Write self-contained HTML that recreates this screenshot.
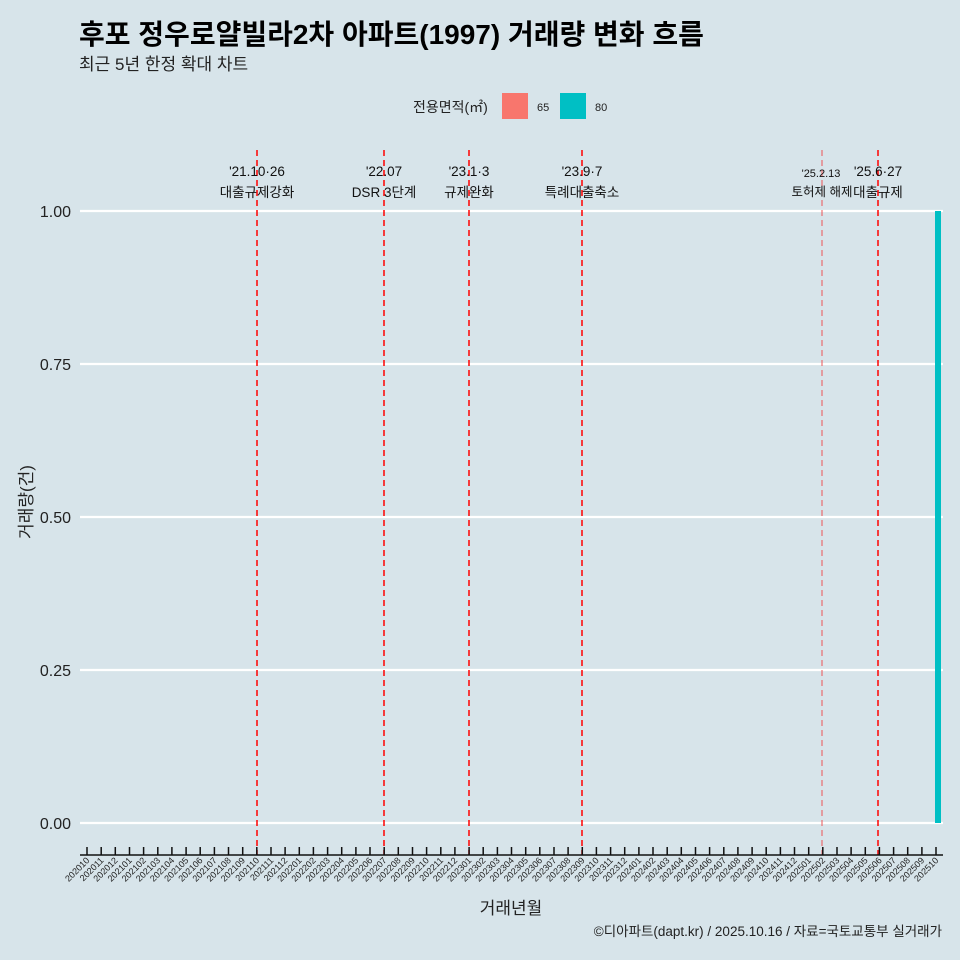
<!DOCTYPE html>
<html><head><meta charset="utf-8"><style>
body{margin:0;background:#d7e4ea}
svg{display:block;font-family:"Liberation Sans","Noto Sans CJK KR",sans-serif}
.t{font-size:9px;fill:#222;text-anchor:end}
</style></head><body>
<svg width="960" height="960" xmlns="http://www.w3.org/2000/svg">
<rect width="960" height="960" fill="#d7e4ea"/>
<text x="79" y="44" font-size="28" font-weight="bold" fill="#000">후포 정우로얄빌라2차 아파트(1997) 거래량 변화 흐름</text>
<text x="79" y="70" font-size="17" fill="#222">최근 5년 한정 확대 차트</text>
<text x="413" y="112" font-size="14" fill="#222">전용면적(㎡)</text>
<rect x="502" y="93" width="26" height="26" fill="#F8766D"/>
<text x="537" y="111" font-size="11" fill="#222">65</text>
<rect x="560" y="93" width="26" height="26" fill="#00BFC4"/>
<text x="595" y="111" font-size="11" fill="#222">80</text>
<g stroke="#fff" stroke-width="2.2">
<line x1="80" x2="943" y1="211" y2="211"/><line x1="80" x2="943" y1="364" y2="364"/>
<line x1="80" x2="943" y1="517" y2="517"/><line x1="80" x2="943" y1="670" y2="670"/>
<line x1="80" x2="943" y1="823" y2="823"/></g>
<g font-size="16" fill="#222" text-anchor="end">
<text x="71" y="217">1.00</text><text x="71" y="370">0.75</text><text x="71" y="523">0.50</text><text x="71" y="676">0.25</text><text x="71" y="829">0.00</text></g>
<text transform="translate(32,502) rotate(-90)" font-size="17" fill="#222" text-anchor="middle">거래량(건)</text>
<text x="511" y="914" font-size="17" fill="#222" text-anchor="middle">거래년월</text>
<text x="942" y="936" font-size="13.5" fill="#222" text-anchor="end">©디아파트(dapt.kr) / 2025.10.16 / 자료=국토교통부 실거래가</text>
<rect x="935" y="211" width="6" height="612" fill="#00BFC4"/>
<g stroke="#f00" stroke-width="1.5" stroke-dasharray="6,4">
<line x1="257" x2="257" y1="150" y2="855"/><line x1="384" x2="384" y1="150" y2="855"/>
<line x1="469" x2="469" y1="150" y2="855"/><line x1="582" x2="582" y1="150" y2="855"/>
<line x1="822" x2="822" y1="150" y2="855" stroke-width="1" stroke="#e55"/><line x1="878" x2="878" y1="150" y2="855"/></g>
<g font-size="13.5" fill="#111" text-anchor="middle">
<text x="257" y="176">'21.10·26</text><text x="257" y="197">대출규제강화</text>
<text x="384" y="176">'22.07</text><text x="384" y="197">DSR 3단계</text>
<text x="469" y="176">'23.1·3</text><text x="469" y="197">규제완화</text>
<text x="582" y="176">'23.9·7</text><text x="582" y="197">특례대출축소</text>
<text x="821" y="177" font-size="11">'25.2.13</text><text x="822" y="196" font-size="12.5">토허제 해제</text>
<text x="878" y="176">'25.6·27</text><text x="878" y="197">대출규제</text></g>
<line x1="80" x2="943" y1="855" y2="855" stroke="#111" stroke-width="1.5"/>
<path stroke="#111" stroke-width="1.5" fill="none" d="M87 847V855M101.2 847V855M115.3 847V855M129.5 847V855M143.6 847V855M157.8 847V855M171.9 847V855M186.1 847V855M200.2 847V855M214.4 847V855M228.5 847V855M242.7 847V855M256.8 847V855M271 847V855M285.1 847V855M299.3 847V855M313.4 847V855M327.6 847V855M341.7 847V855M355.9 847V855M370 847V855M384.2 847V855M398.3 847V855M412.5 847V855M426.6 847V855M440.8 847V855M454.9 847V855M469.1 847V855M483.2 847V855M497.4 847V855M511.5 847V855M525.7 847V855M539.8 847V855M554 847V855M568.1 847V855M582.3 847V855M596.4 847V855M610.6 847V855M624.7 847V855M638.9 847V855M653 847V855M667.2 847V855M681.3 847V855M695.5 847V855M709.6 847V855M723.8 847V855M737.9 847V855M752.1 847V855M766.2 847V855M780.4 847V855M794.5 847V855M808.7 847V855M822.8 847V855M837 847V855M851.1 847V855M865.3 847V855M879.4 847V855M893.6 847V855M907.7 847V855M921.9 847V855M936 847V855"/>
<text class="t" transform="translate(90,861) rotate(-45)">202010</text>
<text class="t" transform="translate(104.2,861) rotate(-45)">202011</text>
<text class="t" transform="translate(118.3,861) rotate(-45)">202012</text>
<text class="t" transform="translate(132.5,861) rotate(-45)">202101</text>
<text class="t" transform="translate(146.6,861) rotate(-45)">202102</text>
<text class="t" transform="translate(160.8,861) rotate(-45)">202103</text>
<text class="t" transform="translate(174.9,861) rotate(-45)">202104</text>
<text class="t" transform="translate(189.1,861) rotate(-45)">202105</text>
<text class="t" transform="translate(203.2,861) rotate(-45)">202106</text>
<text class="t" transform="translate(217.4,861) rotate(-45)">202107</text>
<text class="t" transform="translate(231.5,861) rotate(-45)">202108</text>
<text class="t" transform="translate(245.7,861) rotate(-45)">202109</text>
<text class="t" transform="translate(259.8,861) rotate(-45)">202110</text>
<text class="t" transform="translate(274,861) rotate(-45)">202111</text>
<text class="t" transform="translate(288.1,861) rotate(-45)">202112</text>
<text class="t" transform="translate(302.3,861) rotate(-45)">202201</text>
<text class="t" transform="translate(316.4,861) rotate(-45)">202202</text>
<text class="t" transform="translate(330.6,861) rotate(-45)">202203</text>
<text class="t" transform="translate(344.7,861) rotate(-45)">202204</text>
<text class="t" transform="translate(358.9,861) rotate(-45)">202205</text>
<text class="t" transform="translate(373,861) rotate(-45)">202206</text>
<text class="t" transform="translate(387.2,861) rotate(-45)">202207</text>
<text class="t" transform="translate(401.3,861) rotate(-45)">202208</text>
<text class="t" transform="translate(415.5,861) rotate(-45)">202209</text>
<text class="t" transform="translate(429.6,861) rotate(-45)">202210</text>
<text class="t" transform="translate(443.8,861) rotate(-45)">202211</text>
<text class="t" transform="translate(457.9,861) rotate(-45)">202212</text>
<text class="t" transform="translate(472.1,861) rotate(-45)">202301</text>
<text class="t" transform="translate(486.2,861) rotate(-45)">202302</text>
<text class="t" transform="translate(500.4,861) rotate(-45)">202303</text>
<text class="t" transform="translate(514.5,861) rotate(-45)">202304</text>
<text class="t" transform="translate(528.7,861) rotate(-45)">202305</text>
<text class="t" transform="translate(542.8,861) rotate(-45)">202306</text>
<text class="t" transform="translate(557,861) rotate(-45)">202307</text>
<text class="t" transform="translate(571.1,861) rotate(-45)">202308</text>
<text class="t" transform="translate(585.3,861) rotate(-45)">202309</text>
<text class="t" transform="translate(599.4,861) rotate(-45)">202310</text>
<text class="t" transform="translate(613.6,861) rotate(-45)">202311</text>
<text class="t" transform="translate(627.7,861) rotate(-45)">202312</text>
<text class="t" transform="translate(641.9,861) rotate(-45)">202401</text>
<text class="t" transform="translate(656,861) rotate(-45)">202402</text>
<text class="t" transform="translate(670.2,861) rotate(-45)">202403</text>
<text class="t" transform="translate(684.3,861) rotate(-45)">202404</text>
<text class="t" transform="translate(698.5,861) rotate(-45)">202405</text>
<text class="t" transform="translate(712.6,861) rotate(-45)">202406</text>
<text class="t" transform="translate(726.8,861) rotate(-45)">202407</text>
<text class="t" transform="translate(740.9,861) rotate(-45)">202408</text>
<text class="t" transform="translate(755.1,861) rotate(-45)">202409</text>
<text class="t" transform="translate(769.2,861) rotate(-45)">202410</text>
<text class="t" transform="translate(783.4,861) rotate(-45)">202411</text>
<text class="t" transform="translate(797.5,861) rotate(-45)">202412</text>
<text class="t" transform="translate(811.7,861) rotate(-45)">202501</text>
<text class="t" transform="translate(825.8,861) rotate(-45)">202502</text>
<text class="t" transform="translate(840,861) rotate(-45)">202503</text>
<text class="t" transform="translate(854.1,861) rotate(-45)">202504</text>
<text class="t" transform="translate(868.3,861) rotate(-45)">202505</text>
<text class="t" transform="translate(882.4,861) rotate(-45)">202506</text>
<text class="t" transform="translate(896.6,861) rotate(-45)">202507</text>
<text class="t" transform="translate(910.7,861) rotate(-45)">202508</text>
<text class="t" transform="translate(924.9,861) rotate(-45)">202509</text>
<text class="t" transform="translate(939,861) rotate(-45)">202510</text>
</svg>
</body></html>
